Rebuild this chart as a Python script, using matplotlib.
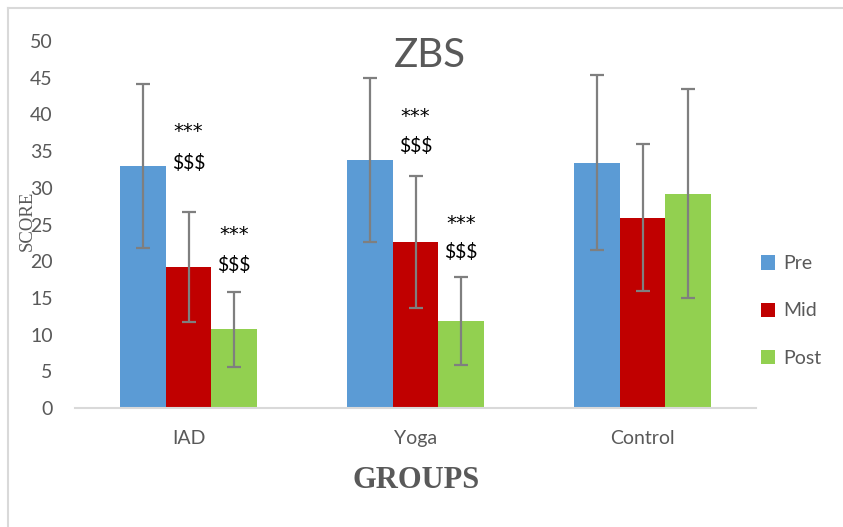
import matplotlib
matplotlib.use('Agg')
import matplotlib.pyplot as plt
import numpy as np
from matplotlib.patches import Patch
from matplotlib.lines import Line2D

# Data
groups = ['IAD', 'Yoga', 'Control']
series = ['Pre', 'Mid', 'Post']
pre = [33.0, 33.8, 33.4]
mid = [19.2, 22.6, 25.9]
post = [10.7, 11.9, 29.2]
pre_err = [11.2, 11.2, 11.9]
mid_err = [7.5, 9.0, 10.0]
post_err = [5.1, 6.0, 14.2]

# Significance marks: (group index, series index, y of '***', y of '$$$')
marks = [(0, 1, 37.7, 33.4), (0, 2, 23.6, 19.5),
         (1, 1, 39.7, 35.7), (1, 2, 25.2, 21.3)]

colors = ['#5B9BD5', '#C00000', '#92D050']
gray = '#595959'

plt.rcParams['font.family'] = ['Lato', 'DejaVu Sans']

fig = plt.figure(figsize=(8.43, 5.27), dpi=100)
ax = fig.add_axes([75 / 843, 1 - 408 / 527, (756 - 75) / 843, (408 - 41) / 527])

x = np.arange(len(groups))
w = 0.2
values = [pre, mid, post]
errors = [pre_err, mid_err, post_err]
for i in range(3):
    ax.bar(x + (i - 1) * w, values[i], w, color=colors[i], label=series[i], zorder=2)
    ax.errorbar(x + (i - 1) * w, values[i], yerr=errors[i], fmt='none',
                ecolor='#7F7F7F', elinewidth=1.6, capsize=5, capthick=1.6, zorder=3)

for g, s, ystar, ydol in marks:
    xp = x[g] + (s - 1) * w
    ax.text(xp, ystar, '***', ha='center', va='center', fontsize=14,
            family=['DejaVu Sans'], color='black')
    ax.text(xp, ydol, '$$$', ha='center', va='center', fontsize=14, color='black')

ax.set_xlim(-0.5, 2.5)
ax.set_ylim(0, 50)
ax.set_yticks(range(0, 51, 5))
ax.set_xticks(x)
ax.set_xticklabels(groups)
ax.tick_params(axis='both', length=0, labelsize=14, labelcolor=gray)
ax.tick_params(axis='y', pad=16)
ax.tick_params(axis='x', pad=16)
for side in ['top', 'right', 'left']:
    ax.spines[side].set_visible(False)
ax.spines['bottom'].set_color('#D9D9D9')
ax.spines['bottom'].set_linewidth(1.5)

fig.text(430 / 843, 1 - 56 / 527, 'ZBS', ha='center', va='center', fontsize=29, color=gray)
fig.text(27 / 843, 1 - 221 / 527, 'SCORE', rotation=90, ha='center', va='center',
         fontsize=13.5, color=gray, family=['Liberation Serif'])
fig.text(416 / 843, 1 - 481 / 527, 'GROUPS', ha='center', va='center', fontsize=22,
         color=gray, family=['Liberation Serif'], fontweight='bold')

handles = [Patch(facecolor=c, label=s) for c, s in zip(colors, series)]
leg = ax.legend(handles=handles, loc='center left', frameon=False,
                bbox_to_anchor=(743 / 843, 1 - 311 / 527), bbox_transform=fig.transFigure,
                handlelength=0.75, handleheight=0.75, handletextpad=0.4,
                labelspacing=1.55, fontsize=14)
for t in leg.get_texts():
    t.set_color(gray)

# chart border (left and top visible)
fig.add_artist(Line2D([8 / 843, 8 / 843], [0, 1 - 8 / 527], transform=fig.transFigure,
                      color='#D9D9D9', linewidth=1.5))
fig.add_artist(Line2D([8 / 843, 1], [1 - 8 / 527, 1 - 8 / 527], transform=fig.transFigure,
                      color='#D9D9D9', linewidth=1.5))

fig.savefig('out.png', dpi=100)
